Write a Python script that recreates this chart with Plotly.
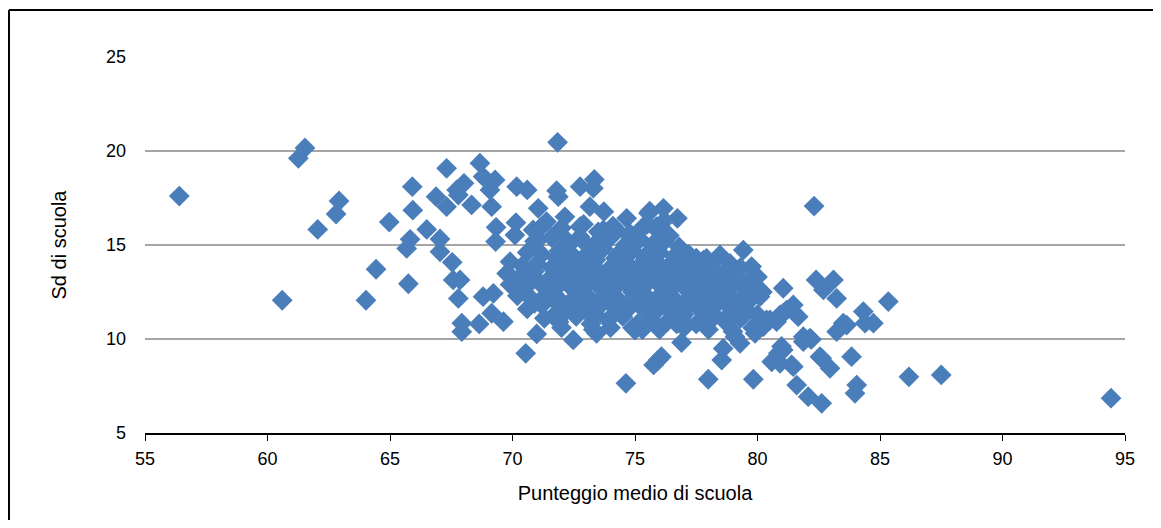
"""
Dispersione: punteggio medio di scuola vs deviazione standard di scuola.
"""
import plotly.graph_objects as go

# punti isolati a sinistra e in alto (punteggio, sd)
coda_sinistra = [
    (56.4, 17.6), (60.6, 12.06), (61.26, 19.61), (61.53, 20.16), (62.05, 15.83),
    (62.80, 16.65), (62.92, 17.34), (64.02, 12.06), (64.43, 13.71), (64.97, 16.22),
    (65.68, 14.82), (65.82, 15.30), (65.75, 12.94), (65.91, 18.10), (65.93, 16.85),
    (66.50, 15.83), (66.88, 17.57), (67.04, 15.32), (67.04, 14.64), (67.31, 19.08),
    (67.31, 17.04), (67.54, 14.08), (67.58, 13.14), (67.72, 17.93), (67.79, 17.66),
    (67.79, 12.16), (67.86, 13.14), (67.93, 10.84), (67.93, 10.39), (68.02, 18.28),
    (68.33, 17.13), (68.64, 10.80), (68.67, 19.35), (68.80, 18.64), (68.80, 12.25),
    (69.08, 17.93), (69.15, 17.04), (69.15, 11.37), (69.22, 12.43), (69.29, 18.46),
    (69.31, 15.18), (69.33, 15.94), (69.63, 10.92), (70.17, 18.10), (70.60, 17.93),
    (71.84, 20.46), (71.80, 17.89), (71.87, 17.57), (72.76, 18.10), (73.34, 18.49),
    (73.30, 18.02), (70.14, 16.19), (70.10, 15.53), (71.05, 16.95), (71.39, 16.24),
    (72.14, 16.50), (72.76, 15.97), (73.16, 17.04), (73.73, 16.77), (74.66, 16.42),
    (75.55, 16.69), (76.16, 16.95), (76.73, 16.42), (69.90, 14.11), (69.76, 13.49),
    (70.99, 10.27), (70.54, 9.24), (72.48, 9.95), (73.43, 10.30), (75.00, 10.48),
    (74.63, 7.64), (75.76, 8.62), (76.08, 9.06), (76.90, 9.81), (75.95, 8.88),
    (70.84, 15.80), (71.05, 15.27), (72.07, 15.44), (72.76, 15.44), (73.71, 15.80),
    (74.25, 15.80), (74.80, 15.44), (75.34, 15.97), (75.88, 15.97),
]

# nucleo denso tra 70 e 80
nucleo = [
    (71.2, 16.0), (72.0, 15.9), (72.9, 16.1), (73.5, 15.7), (74.1, 16.0), (74.8, 15.6),
    (75.5, 16.1), (75.9, 15.8), (76.4, 15.5), (75.6, 16.8), (76.2, 16.3), (76.1, 15.6),
    (70.9, 15.2), (71.6, 15.4), (72.3, 15.0), (72.8, 15.3), (73.4, 15.1), (74.0, 15.4),
    (74.6, 15.0), (75.2, 15.3), (75.7, 15.0), (76.2, 15.2), (76.8, 14.9),
    (70.6, 14.6), (71.2, 14.5), (71.9, 14.7), (72.5, 14.4), (73.1, 14.6), (73.7, 14.8),
    (74.3, 14.5), (74.9, 14.7), (75.4, 14.4), (76.0, 14.6), (76.6, 14.4), (77.2, 14.5),
    (77.8, 14.2), (77.0, 14.3), (77.5, 14.3),
    (70.4, 13.9), (71.0, 14.0), (71.6, 13.8), (72.2, 14.1), (72.8, 13.9), (73.4, 14.2),
    (74.0, 13.8), (74.6, 14.1), (75.2, 13.9), (75.8, 14.2), (76.3, 13.8), (76.9, 14.0),
    (77.5, 13.7), (78.1, 13.9), (78.7, 13.6), (79.3, 13.8),
    (69.8, 13.5), (70.3, 13.3), (70.9, 13.6), (71.5, 13.2), (72.1, 13.5), (72.7, 13.3),
    (73.2, 13.6), (73.8, 13.2), (74.4, 13.5), (75.0, 13.3), (75.6, 13.6), (76.2, 13.2),
    (76.7, 13.5), (77.3, 13.1), (77.9, 13.4), (78.4, 13.2), (79.0, 13.4), (79.6, 13.1),
    (80.0, 13.3),
    (69.9, 12.9), (70.5, 12.7), (71.1, 13.0), (71.7, 12.6), (72.3, 12.9), (72.9, 12.7),
    (73.5, 13.0), (74.1, 12.6), (74.7, 12.9), (75.3, 12.7), (75.9, 13.0), (76.4, 12.6),
    (77.0, 12.9), (77.6, 12.7), (78.2, 12.9), (78.8, 12.6), (79.4, 12.8), (80.2, 12.5),
    (70.2, 12.3), (70.8, 12.1), (71.4, 12.4), (72.0, 12.0), (72.6, 12.3), (73.2, 12.1),
    (73.8, 12.4), (74.4, 12.0), (75.0, 12.3), (75.6, 12.1), (76.1, 12.4), (76.7, 12.0),
    (77.3, 12.3), (77.9, 12.1), (78.5, 12.3), (79.1, 12.0), (79.8, 12.2),
    (70.6, 11.6), (71.2, 11.8), (71.8, 11.4), (72.4, 11.7), (73.0, 11.5), (73.6, 11.8),
    (74.2, 11.4), (74.8, 11.7), (75.4, 11.5), (76.0, 11.8), (76.5, 11.4), (77.1, 11.7),
    (77.7, 11.5), (78.3, 11.8), (78.9, 11.4), (79.5, 11.6), (80.0, 11.3),
    (71.3, 11.1), (71.9, 10.9), (72.6, 11.2), (73.2, 10.8), (73.9, 11.0), (74.5, 11.2),
    (75.1, 10.8), (75.7, 11.0), (76.3, 10.9), (76.9, 11.1), (77.5, 10.8), (78.1, 11.0),
    (78.7, 10.9), (79.3, 11.1), (79.8, 10.6), (78.74, 11.0),
    (73.3, 10.5), (74.9, 10.6), (75.3, 10.5), (77.0, 10.6), (78.0, 10.5), (79.0, 10.4),
    (79.9, 10.3),
    (77.92, 14.29), (78.47, 14.47), (78.88, 14.02),
    (79.69, 12.61), (80.10, 12.25), (79.96, 10.48),
    (70.3, 12.6), (70.7, 13.1), (71.4, 12.9), (71.9, 13.3), (72.5, 12.6), (73.0, 13.2),
    (73.6, 12.7), (74.2, 13.1), (74.9, 12.5), (75.5, 13.0), (76.0, 12.3), (76.6, 12.8),
    (77.2, 12.5), (77.8, 12.9), (78.3, 12.5), (78.9, 13.0), (79.5, 12.4),
    (70.9, 11.9), (71.6, 12.2), (72.2, 11.5), (72.8, 12.0), (73.4, 11.3), (74.0, 11.9),
    (74.6, 11.5), (75.2, 12.0), (75.8, 11.4), (76.4, 11.9), (77.0, 11.3), (77.6, 11.9),
    (78.2, 11.3), (78.8, 11.8), (79.4, 11.2),
    (71.8, 14.3), (72.4, 13.7), (73.0, 14.2), (73.6, 13.5), (74.2, 14.3), (74.8, 13.6),
    (75.4, 14.2), (76.0, 13.5), (76.6, 14.0), (77.2, 13.6), (77.8, 13.8),
    (72.0, 10.6), (74.0, 10.6), (76.0, 10.5), (76.7, 10.8),
]

# coda a destra
coda_destra = [
    (79.42, 14.73), (79.76, 13.85), (79.96, 13.32), (81.05, 12.70), (81.46, 11.81),
    (81.66, 11.19), (81.05, 11.37), (80.51, 11.01), (80.24, 10.66), (81.87, 10.12),
    (82.14, 10.04), (79.08, 10.12), (78.60, 9.50), (78.54, 8.88), (77.99, 7.86),
    (79.83, 7.86), (80.85, 9.24), (80.58, 8.79), (81.39, 8.62), (80.98, 9.60),
    (81.60, 7.55), (82.07, 6.93), (82.62, 6.58), (82.55, 9.06), (82.96, 8.44),
    (83.84, 9.06), (84.05, 7.55), (83.98, 7.11), (82.31, 17.07), (82.39, 13.14),
    (83.10, 13.14), (82.69, 12.61), (83.23, 12.16), (85.34, 11.99), (84.32, 11.46),
    (84.73, 10.84), (84.39, 10.84), (83.64, 10.74), (83.23, 10.39), (83.50, 10.84),
    (81.87, 9.86), (82.20, 9.98), (82.62, 8.97), (81.46, 8.53), (86.18, 7.99),
    (87.50, 8.09), (94.43, 6.85), (80.92, 8.71), (81.05, 9.41), (80.37, 11.01),
    (80.92, 11.28), (81.19, 11.54), (80.78, 10.92), (79.29, 9.77),
]

punti = coda_sinistra + nucleo + coda_destra
punteggio = [p[0] for p in punti]
sd = [p[1] for p in punti]

tick_x = [55, 60, 65, 70, 75, 80, 85, 90, 95]
tick_y = [5, 10, 15, 20, 25]

FONT = "Liberation Sans, Arial, sans-serif"

fig = go.Figure()

fig.add_trace(go.Scatter(
    x=punteggio,
    y=sd,
    mode='markers',
    marker=dict(symbol='diamond', size=16, color='#4A7EBB', line=dict(width=0)),
    hovertemplate='Punteggio: %{x:.1f}<br>Sd: %{y:.1f}<extra></extra>'
))

# la pagina ha 8px di margine sul body: il grafico e' spostato di conseguenza
fig.update_layout(
    width=1145,
    height=512,
    paper_bgcolor='white',
    plot_bgcolor='white',
    showlegend=False,
    margin=dict(l=137, r=28, t=49, b=87),
    font=dict(family=FONT, size=18, color='black'),
    xaxis=dict(
        range=[55, 95],
        tickvals=tick_x,
        showgrid=False,
        zeroline=False,
        showline=True,
        linecolor='black',
        linewidth=2,
        ticks='outside',
        ticklen=6,
        tickwidth=1,
        tickcolor='black',
        ticklabelstandoff=2,
        title=dict(text='Punteggio medio di scuola', font=dict(size=20), standoff=18),
    ),
    # asse sovrapposto solo per le tacche verso l'interno (tacche a croce)
    xaxis2=dict(
        range=[55, 95],
        tickvals=tick_x,
        overlaying='x',
        anchor='y',
        side='bottom',
        showgrid=False,
        zeroline=False,
        showline=False,
        ticks='inside',
        ticklen=6,
        tickwidth=1,
        tickcolor='black',
        showticklabels=False,
    ),
    yaxis=dict(
        range=[5, 25],
        tickvals=tick_y,
        showgrid=True,
        gridcolor='#A6A6A6',
        gridwidth=1.5,
        zeroline=False,
        showline=False,
        ticks='',
        ticklabelstandoff=18,
        title=dict(text='Sd di scuola', font=dict(size=20), standoff=33),
    ),
)

# cornice esterna: solo lato sinistro e superiore rientrano nella finestra
fig.add_shape(
    type='line', xref='paper', yref='paper',
    x0=-0.1388, x1=-0.1388, y0=-0.3, y1=1.125,
    line=dict(color='black', width=2), layer='above'
)
fig.add_shape(
    type='line', xref='paper', yref='paper',
    x0=-0.1388, x1=1.1, y0=1.125, y1=1.125,
    line=dict(color='black', width=2), layer='above'
)

fig.write_html("out.html")
